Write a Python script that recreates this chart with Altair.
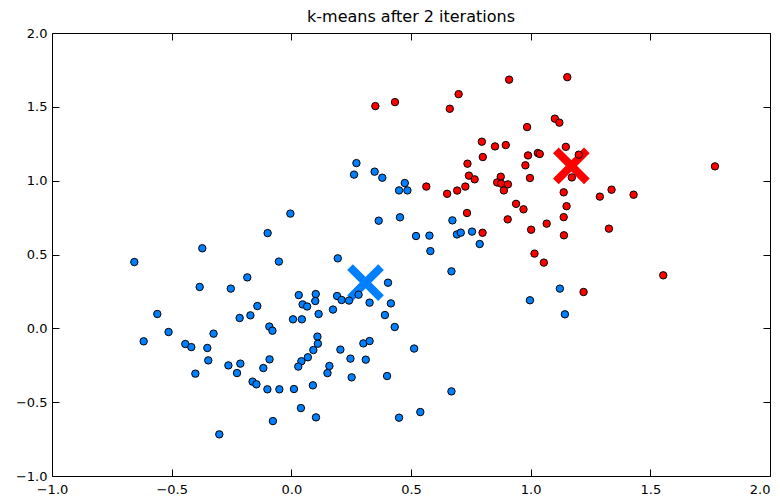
import altair as alt
import pandas as pd

# Cluster 0 (blue) points
blue_x = [-0.004, -0.099, -0.372, -0.656, -0.052, -0.184, -0.383, -0.253, 0.031, 0.102,
          0.100, 0.047, 0.066, -0.142, -0.560, -0.216, -0.171, 0.007, 0.044, 0.114,
          -0.092, -0.079, -0.513, -0.617, -0.325, -0.443, -0.418, -0.351, 0.109, 0.111,
          0.092, 0.069, 0.042, 0.029, -0.347, -0.091, -0.263, -0.213, -0.117, -0.227,
          -0.401, -0.162, -0.146, -0.100, -0.050, 0.011, 0.090, 0.040, 0.103, -0.077,
          -0.301, 0.272, 0.262, 0.348, 0.380, 0.474, 0.450, 0.485, 0.365, 0.454,
          0.673, 0.521, 0.577, 0.581, 0.692, 0.708, 0.755, 0.787, 0.194, 0.669,
          0.404, 0.191, 0.210, 0.241, 0.281, 0.327, 0.416, 0.174, 0.391, 0.432,
          0.301, 0.327, 0.205, 0.247, 0.311, 0.513, 0.159, 0.151, 0.252, 0.400,
          0.669, 0.450, 0.539, 1.122, 0.997, 1.143]
blue_y = [0.777, 0.645, 0.542, 0.449, 0.452, 0.345, 0.280, 0.269, 0.225, 0.232,
          0.185, 0.162, 0.148, 0.151, 0.097, 0.070, 0.088, 0.061, 0.061, 0.097,
          0.012, -0.016, -0.025, -0.088, -0.036, -0.106, -0.127, -0.133, -0.056, -0.104,
          -0.147, -0.196, -0.223, -0.259, -0.217, -0.210, -0.251, -0.239, -0.269, -0.303,
          -0.307, -0.361, -0.379, -0.413, -0.413, -0.411, -0.386, -0.540, -0.603, -0.628,
          -0.718, 1.119, 1.041, 1.061, 1.020, 0.984, 0.934, 0.934, 0.729, 0.752,
          0.731, 0.625, 0.628, 0.523, 0.636, 0.648, 0.655, 0.571, 0.474, 0.386,
          0.309, 0.219, 0.192, 0.188, 0.228, 0.174, 0.169, 0.127, 0.090, 0.009,
          -0.102, -0.086, -0.144, -0.205, -0.212, -0.137, -0.255, -0.303, -0.332, -0.323,
          -0.427, -0.605, -0.567, 0.269, 0.190, 0.095]

# Cluster 1 (red) points
red_x = [0.800, 0.736, 0.742, 0.766, 0.727, 0.693, 0.651, 0.564, 0.875, 0.860,
         0.877, 0.905, 0.888, 0.939, 0.734, 0.904, 0.799, 0.910, 1.153, 0.699,
         0.351, 0.433, 0.662, 1.101, 1.120, 0.985, 0.796, 0.851, 0.896, 1.147,
         0.989, 1.030, 1.038, 0.978, 0.997, 1.138, 1.150, 0.970, 1.138, 1.067,
         1.002, 1.139, 1.016, 1.055, 1.201, 1.172, 1.289, 1.338, 1.430, 1.770,
         1.327, 1.554, 1.221]
red_y = [1.160, 1.115, 1.034, 1.009, 0.960, 0.933, 0.911, 0.960, 1.027, 0.988,
         0.980, 0.975, 0.934, 0.843, 0.781, 0.738, 0.647, 1.684, 1.701, 1.586,
         1.505, 1.532, 1.487, 1.420, 1.393, 1.363, 1.264, 1.232, 1.241, 1.229,
         1.171, 1.187, 1.181, 1.104, 1.018, 0.921, 0.827, 0.806, 0.753, 0.709,
         0.668, 0.630, 0.506, 0.445, 1.176, 1.022, 0.892, 0.939, 0.905, 1.097,
         0.675, 0.359, 0.246]

# Centroids
centroid_x = [0.31, 1.17]
centroid_y = [0.31, 1.10]

clusters = ["0", "1"]
cluster_colors = ["#0080ff", "#ff0000"]
x_ticks = [-1.0, -0.5, 0.0, 0.5, 1.0, 1.5, 2.0]
y_ticks = [-1.0, -0.5, 0.0, 0.5, 1.0, 1.5, 2.0]

points = pd.DataFrame({
    "x": blue_x + red_x,
    "y": blue_y + red_y,
    "cluster": ["0"] * len(blue_x) + ["1"] * len(red_x),
})
cents = pd.DataFrame({"x": centroid_x, "y": centroid_y, "cluster": clusters})

xscale = alt.Scale(domain=[-1.0, 2.0], nice=False, zero=False)
yscale = alt.Scale(domain=[-1.0, 2.0], nice=False, zero=False)
cscale = alt.Scale(domain=clusters, range=cluster_colors)

common_axis = dict(domain=False, grid=False, title=None, tickSize=7, offset=-7,
                   tickColor="black", tickWidth=1, labelColor="black",
                   labelFont="DejaVu Sans", labelFontSize=13, labelFlush=False,
                   labelOverlap=False, format=".1f")

cent = alt.Chart(cents).mark_point(
    shape="M-1,-1L1,1M-1,1L1,-1", filled=False, size=961, strokeWidth=8,
    strokeCap="butt", opacity=1
).encode(
    x=alt.X("x:Q", scale=xscale,
            axis=alt.Axis(values=x_ticks, orient="top", labels=False, **common_axis)),
    y=alt.Y("y:Q", scale=yscale,
            axis=alt.Axis(values=y_ticks, orient="right", labels=False, **common_axis)),
    color=alt.Color("cluster:N", scale=cscale, legend=None),
)

pts = alt.Chart(points).mark_point(
    filled=True, shape="circle", size=55, stroke="black", strokeWidth=1, opacity=1
).encode(
    x=alt.X("x:Q", scale=xscale,
            axis=alt.Axis(values=x_ticks, orient="bottom", labelPadding=7,
                          labelAlign={"condition": {"test": "datum.value >= 2", "value": "right"},
                                      "value": "center"},
                          **common_axis)),
    y=alt.Y("y:Q", scale=yscale,
            axis=alt.Axis(values=y_ticks, orient="left", labelPadding=5, **common_axis)),
    color=alt.Color("cluster:N", scale=cscale, legend=None),
)

chart = alt.layer(cent, pts).resolve_axis(x="independent", y="independent").properties(
    width=718,
    height=443,
    title=alt.TitleParams("k-means after 2 iterations", fontSize=16, font="DejaVu Sans",
                          fontWeight="normal", color="black", offset=2, anchor="middle"),
    autosize=alt.AutoSizeParams(type="none"),
    padding={"left": 44, "top": 25, "right": 2, "bottom": 22},
).configure_view(stroke="black", strokeWidth=1)

chart.save("out.html", embed_options={"renderer": "svg", "actions": False})
